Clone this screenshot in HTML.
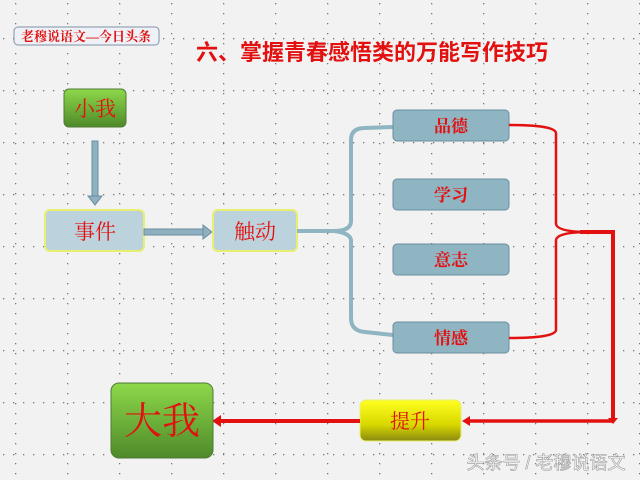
<!DOCTYPE html>
<html><head><meta charset="utf-8"><style>
html,body{margin:0;padding:0;width:640px;height:480px;overflow:hidden;background:#f2f2f2}
text{font-family:"Liberation Sans","Noto Sans CJK SC",sans-serif}
.s{font-family:"Liberation Serif","Noto Serif CJK SC",serif}
</style></head><body>
<svg width="640" height="480" xmlns="http://www.w3.org/2000/svg">
<defs>
<pattern id="h" x="0" y="0" width="10" height="52" patternUnits="userSpaceOnUse" patternTransform="translate(3,38)">
<rect x="0" y="0" width="1.3" height="1.3" fill="#777"/></pattern>
<pattern id="v" x="0" y="0" width="52" height="10" patternUnits="userSpaceOnUse" patternTransform="translate(15,3)">
<rect x="0" y="0" width="1.3" height="1.3" fill="#777"/></pattern>
<linearGradient id="g" x1="0" y1="0" x2="0" y2="1"><stop offset="0" stop-color="#8ed84a"/><stop offset="1" stop-color="#4e8a2a"/></linearGradient>
<linearGradient id="y" x1="0" y1="0" x2="0" y2="1"><stop offset="0" stop-color="#ffff20"/><stop offset="0.6" stop-color="#d8d800"/><stop offset="1" stop-color="#8a8a10"/></linearGradient>
</defs>
<rect width="640" height="480" fill="url(#h)"/>
<rect width="640" height="480" fill="url(#v)"/>
<rect x="14" y="27" width="145" height="18" rx="4" fill="#eef2f6" stroke="#7f93a8"/>
<text class="s" x="86" y="41" font-size="13" fill="#e31010" text-anchor="middle" font-weight="bold">老穆说语文—今日头条</text>
<text x="372" y="60" font-size="22" fill="#e31010" text-anchor="middle" font-weight="bold">六、掌握青春感悟类的万能写作技巧</text>
<rect x="64" y="89" width="62" height="38" rx="5" fill="url(#g)" stroke="#4f7a33"/>
<text class="s" x="95" y="116" font-size="21" fill="#e31010" text-anchor="middle">小我</text>
<rect x="92" y="141" width="6" height="56" fill="#8fb0be" stroke="#6a8fa0"/>
<polygon points="88,196 102,196 95,205" fill="#8fb0be" stroke="#6a8fa0"/>
<rect x="45" y="210" width="99" height="41" rx="5" fill="#bcd2dc" stroke="#e8ee70" stroke-width="2"/>
<text class="s" x="95" y="239" font-size="21" fill="#e31010" text-anchor="middle">事件</text>
<rect x="144" y="229" width="60" height="6" fill="#8fb0be" stroke="#6a8fa0"/>
<polygon points="203,225 203,239 212,232" fill="#8fb0be" stroke="#6a8fa0"/>
<rect x="213" y="210" width="84" height="41" rx="5" fill="#bcd2dc" stroke="#e8ee70" stroke-width="2"/>
<text class="s" x="255" y="239" font-size="21" fill="#e31010" text-anchor="middle">触动</text>
<path d="M297 231 L334 231 Q350 231 351 222 L351 140 Q351 128 365 128 L393 127 M334 231 Q350 233 351 240 L351 318 Q351 331 365 332 L393 335" fill="none" stroke="#8fb4c2" stroke-width="4"/>
<g fill="#8fb4c2" stroke="#6a8fa0">
<rect x="393" y="110" width="116" height="31" rx="4"/>
<rect x="393" y="179" width="116" height="31" rx="4"/>
<rect x="393" y="244" width="116" height="31" rx="4"/>
<rect x="393" y="322" width="116" height="31" rx="4"/>
</g>
<g class="s" font-size="17" fill="#e31010" text-anchor="middle" font-weight="bold">
<text class="s" x="451" y="132">品德</text><text class="s" x="451" y="201">学习</text><text class="s" x="451" y="266">意志</text><text class="s" x="451" y="344">情感</text>
</g>
<path d="M509 125 Q555 125 556 133 L556 224 Q557 231 583 232 M583 232 Q557 233 556 240 L556 330 Q555 338 509 338" fill="none" stroke="#e31010" stroke-width="2.5"/>
<path d="M580 232 L613 232 L613 420" fill="none" stroke="#e31010" stroke-width="4"/>
<polygon points="608,418 618,418 613,424" fill="#e31010"/>
<line x1="613" y1="421" x2="468" y2="421" stroke="#e31010" stroke-width="3.5"/>
<polygon points="470,416 470,426 462,421" fill="#e31010"/>
<rect x="360" y="400" width="101" height="41" rx="6" fill="url(#y)" stroke="#e8ee70"/>
<text class="s" x="410" y="428" font-size="20" fill="#e31010" text-anchor="middle">提升</text>
<line x1="360" y1="421" x2="220" y2="421" stroke="#e31010" stroke-width="4"/>
<polygon points="221,415 221,427 212,421" fill="#e31010"/>
<rect x="111" y="383" width="102" height="75" rx="8" fill="url(#g)" stroke="#4f7a33"/>
<text class="s" x="162" y="434" font-size="38" fill="#e31010" text-anchor="middle">大我</text>
<text x="546" y="469" font-size="18" fill="#fff" stroke="#999" stroke-width="0.6" text-anchor="middle">头条号 / 老穆说语文</text>
</svg>
</body></html>
